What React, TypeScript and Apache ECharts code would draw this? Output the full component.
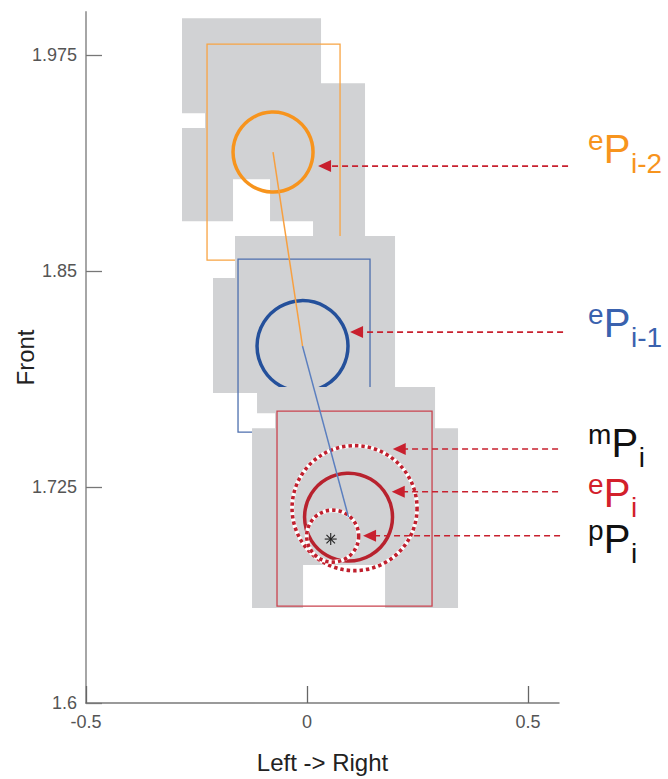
import React, { useEffect, useRef } from 'react';
import * as echarts from 'echarts';

const FONT = '"Liberation Sans", Arial, Helvetica, sans-serif';

// axis ticks
const X_TICKS = [-0.5, 0, 0.5];
const Y_TICKS = [1.6, 1.725, 1.85, 1.975];

// occupied grid outlines (x, y) for the three poses
const occupancyPrev2 = [
  [-0.2828, 1.9964], [0.0317, 1.9964], [0.0317, 1.9588], [0.1312, 1.9588], [0.1312, 1.8703],
  [0.0136, 1.8703], [0.0136, 1.8789], [-0.0837, 1.8789], [-0.0837, 1.9032], [-0.1674, 1.9032],
  [-0.1674, 1.8789], [-0.2828, 1.8789], [-0.2828, 1.9328], [-0.2308, 1.9328], [-0.2308, 1.9414],
  [-0.2828, 1.9414],
];
const occupancyPrev1 = [
  [-0.1629, 1.8703], [0.1991, 1.8703], [0.1991, 1.7794], [-0.2127, 1.7794], [-0.2127, 1.846],
  [-0.1629, 1.846],
];
const occupancyCurr = [
  [-0.1131, 1.7829], [0.2896, 1.7829], [0.2896, 1.7591], [0.3416, 1.7591], [0.3416, 1.655],
  [0.1765, 1.655], [0.1765, 1.6799], [-0.009, 1.6799], [-0.009, 1.655], [-0.1244, 1.655],
  [-0.1244, 1.7591], [-0.0724, 1.7591], [-0.0724, 1.7678], [-0.1131, 1.7678],
];

// bounding boxes [xMin, yMin, xMax, yMax]
const boxPrev2 = [-0.2262, 1.8564, 0.0747, 1.9814];
const boxPrev1 = [-0.1561, 1.7568, 0.1425, 1.8569];
const boxCurr = [-0.0679, 1.6561, 0.2828, 1.769];

// circles [cx, cy, radius (x units)]
const estPrev2 = [-0.0769, 1.9189, 0.0905];
const estPrev1 = [-0.0102, 1.8066, 0.1029];
const estCurr = [0.0939, 1.7076, 0.0995];
const measCurr = [0.1075, 1.7128, 0.1414];
const predCurr = [0.0581, 1.6966, 0.0588];
const markerPoint = [0.0536, 1.6949];

// trajectory
const trajPrev = [[-0.0769, 1.9189], [-0.0102, 1.8066]];
const trajCurr = [[-0.0102, 1.8066], [0.0939, 1.7076]];

// arrows [tipX, y, endX]
const arrows = [
  [0.0249, 1.9108, 0.5905],
  [0.0973, 1.8147, 0.5792],
  [0.1939, 1.747, 0.5679],
  [0.1916, 1.7223, 0.5679],
  [0.1267, 1.6968, 0.5724],
];

// labels: anchor x, baseline y
const labelX = [0.6357, 0.6357, 0.6357, 0.6357, 0.6357];
const labelY = [1.9125, 1.8118, 1.7424, 1.7134, 1.6868];
const labelSup = ['e', 'e', 'm', 'e', 'p'];
const labelMain = ['P', 'P', 'P', 'P', 'P'];
const labelSub = ['i-2', 'i-1', 'i', 'i', 'i'];
const labelColor = ['#f7941d', '#3a62ae', '#111111', '#d3202b', '#111111'];

const GREY = '#d1d2d4';
const RED = '#c8202e';

function polySeries(poly: number[][]) {
  return {
    type: 'custom',
    coordinateSystem: 'cartesian2d',
    silent: true,
    data: [poly[0]],
    renderItem: (_p: any, api: any) => ({
      type: 'polygon',
      shape: { points: poly.map((p) => api.coord(p)) },
      style: { fill: GREY, stroke: null },
    }),
  };
}

function boxSeries(b: number[], color: string) {
  return {
    type: 'custom',
    coordinateSystem: 'cartesian2d',
    silent: true,
    data: [[b[0], b[1], b[2], b[3]]],
    renderItem: (_p: any, api: any) => {
      const a = api.coord([api.value(0), api.value(3)]);
      const c = api.coord([api.value(2), api.value(1)]);
      return {
        type: 'rect',
        shape: { x: a[0], y: a[1], width: c[0] - a[0], height: c[1] - a[1] },
        style: { fill: 'none', stroke: color, lineWidth: 1.3 },
      };
    },
  };
}

function circleSeries(c: number[], color: string, dotted: boolean) {
  return {
    type: 'custom',
    coordinateSystem: 'cartesian2d',
    silent: true,
    data: [[c[0], c[1], c[2]]],
    renderItem: (_p: any, api: any) => {
      const ctr = api.coord([api.value(0), api.value(1)]);
      const r = api.size([api.value(2), 0])[0];
      if (!dotted) {
        return {
          type: 'circle',
          shape: { cx: ctr[0], cy: ctr[1], r },
          style: { fill: 'none', stroke: color, lineWidth: 3.5 },
        };
      }
      return {
        type: 'group',
        children: [
          { type: 'circle', shape: { cx: ctr[0], cy: ctr[1], r }, style: { fill: 'none', stroke: '#ffffff', lineWidth: 4 } },
          {
            type: 'circle',
            shape: { cx: ctr[0], cy: ctr[1], r },
            style: { fill: 'none', stroke: color, lineWidth: 3.6, lineDash: [3.4, 3] },
          },
        ],
      };
    },
  };
}

export default function App() {
  const ref = useRef<HTMLDivElement>(null);
  useEffect(() => {
    document.body.style.margin = '0';
    const chart = echarts.init(ref.current as HTMLDivElement, null, { renderer: 'svg' });
    const option: any = {
      animation: false,
      backgroundColor: '#ffffff',
      grid: { left: 86, right: 109, top: 12, bottom: 76, outerBoundsMode: 'none' },
      xAxis: {
        type: 'value',
        min: -0.5,
        max: 0.57,
        axisLine: { show: true, onZero: false, lineStyle: { color: '#7a7a7a', width: 1.5 } },
        axisTick: { show: true, inside: true, length: 17, customValues: X_TICKS, lineStyle: { color: '#666', width: 1.3 } },
        axisLabel: { customValues: X_TICKS, fontSize: 18, color: '#555', margin: 10, fontFamily: FONT },
        splitLine: { show: false },
        name: 'Left -> Right',
        nameLocation: 'middle',
        nameGap: 47,
        nameMoveOverlap: false,
        nameTextStyle: { fontSize: 24, color: '#222', fontFamily: FONT },
      },
      yAxis: {
        type: 'value',
        min: 1.6,
        max: 2.0,
        axisLine: { show: true, onZero: false, lineStyle: { color: '#a6a6a6', width: 2 } },
        axisTick: { show: true, inside: true, length: 16, customValues: Y_TICKS, lineStyle: { color: '#777', width: 1.3 } },
        axisLabel: { customValues: Y_TICKS, fontSize: 18, color: '#555', margin: 9, fontFamily: FONT },
        splitLine: { show: false },
        name: 'Front',
        nameLocation: 'middle',
        nameGap: 49,
        nameRotate: 90,
        nameMoveOverlap: false,
        nameTextStyle: { fontSize: 24, color: '#222', fontFamily: FONT },
      },
      series: [
        polySeries(occupancyPrev2),
        boxSeries(boxPrev2, '#f8a443'),
        circleSeries(estPrev2, '#f7941d', false),
        polySeries(occupancyPrev1),
        boxSeries(boxPrev1, '#4d6fae'),
        circleSeries(estPrev1, '#24509b', false),
        polySeries(occupancyCurr),
        boxSeries(boxCurr, '#c9434e'),
        circleSeries(measCurr, '#c0202e', true),
        circleSeries(estCurr, '#b8222e', false),
        circleSeries(predCurr, '#c0202e', true),
        {
          type: 'custom',
          coordinateSystem: 'cartesian2d',
          silent: true,
          data: [markerPoint],
          renderItem: (_p: any, api: any) => {
            const c = api.coord([api.value(0), api.value(1)]);
            const L = 6;
            const d = L * Math.SQRT1_2;
            const st = { stroke: '#222', lineWidth: 1.1 };
            return {
              type: 'group',
              children: [
                { type: 'line', shape: { x1: c[0] - L, y1: c[1], x2: c[0] + L, y2: c[1] }, style: st },
                { type: 'line', shape: { x1: c[0], y1: c[1] - L, x2: c[0], y2: c[1] + L }, style: st },
                { type: 'line', shape: { x1: c[0] - d, y1: c[1] - d, x2: c[0] + d, y2: c[1] + d }, style: st },
                { type: 'line', shape: { x1: c[0] - d, y1: c[1] + d, x2: c[0] + d, y2: c[1] - d }, style: st },
              ],
            };
          },
        },
        {
          type: 'line',
          data: trajPrev,
          symbol: 'none',
          silent: true,
          lineStyle: { color: '#f7a040', width: 1.5 },
        },
        {
          type: 'line',
          data: trajCurr,
          symbol: 'none',
          silent: true,
          lineStyle: { color: '#5b7fbf', width: 1.5 },
        },
        {
          type: 'custom',
          coordinateSystem: 'cartesian2d',
          silent: true,
          clip: false,
          data: arrows,
          renderItem: (_p: any, api: any) => {
            const tip = api.coord([api.value(0), api.value(1)]);
            const end = api.coord([api.value(2), api.value(1)]);
            return {
              type: 'group',
              children: [
                {
                  type: 'line',
                  shape: { x1: end[0], y1: end[1], x2: tip[0] + 12, y2: tip[1] },
                  style: { stroke: RED, lineWidth: 1.6, lineDash: [6, 4] },
                },
                {
                  type: 'polygon',
                  shape: { points: [[tip[0], tip[1]], [tip[0] + 13, tip[1] - 6], [tip[0] + 13, tip[1] + 6]] },
                  style: { fill: RED },
                },
              ],
            };
          },
        },
        {
          type: 'custom',
          coordinateSystem: 'cartesian2d',
          silent: true,
          clip: false,
          data: labelX.map((x, i) => [x, labelY[i]]),
          renderItem: (p: any, api: any) => {
            const i = p.dataIndex;
            const a = api.coord([api.value(0), api.value(1)]);
            const supW = labelSup[i] === 'm' ? 23.5 : 15.8;
            const col = labelColor[i];
            return {
              type: 'group',
              children: [
                {
                  type: 'text',
                  style: {
                    text: labelSup[i], x: a[0], y: a[1] - 13 - 0.35 * 28, fill: col,
                    font: `28px ${FONT}`, textAlign: 'left', textVerticalAlign: 'middle',
                  },
                },
                {
                  type: 'text',
                  style: {
                    text: labelMain[i], x: a[0] + supW, y: a[1] - 0.35 * 40, fill: col,
                    font: `40px ${FONT}`, textAlign: 'left', textVerticalAlign: 'middle',
                  },
                },
                {
                  type: 'text',
                  style: {
                    text: labelSub[i], x: a[0] + supW + 27.2, y: a[1] + 10 - 0.35 * 28, fill: col,
                    font: `28px ${FONT}`, textAlign: 'left', textVerticalAlign: 'middle',
                  },
                },
              ],
            };
          },
        },
      ],
    };
    chart.setOption(option);
    return () => chart.dispose();
  }, []);
  return <div ref={ref} style={{ width: 668, height: 779 }} />;
}
